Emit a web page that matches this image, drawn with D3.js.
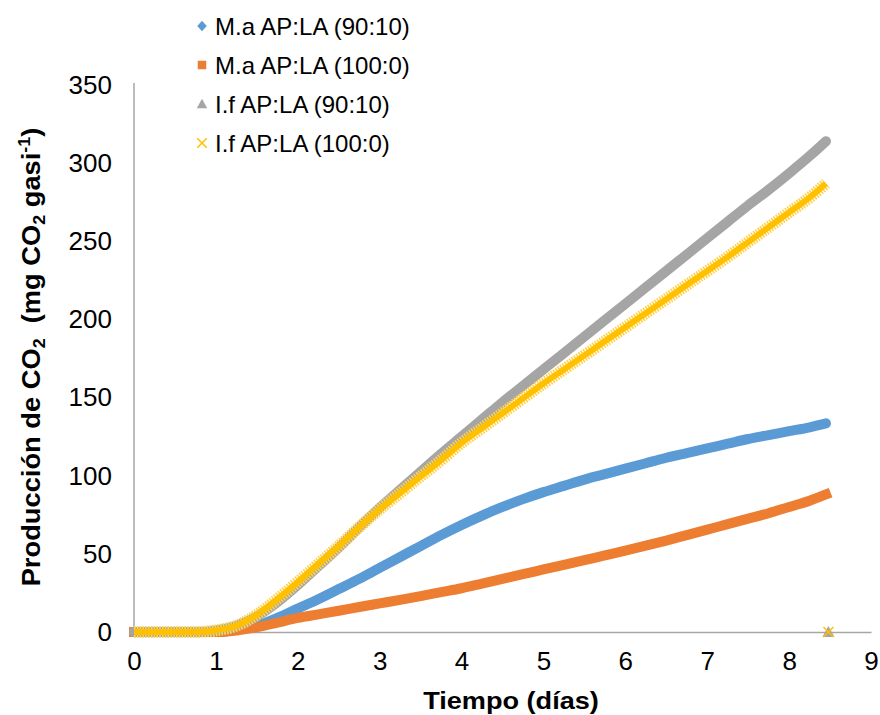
<!DOCTYPE html>
<html><head><meta charset="utf-8">
<script src="https://cdn.jsdelivr.net/npm/d3@7"></script>
<style>
body{margin:0;background:#fff}
text{font-family:"Liberation Sans",Arial,sans-serif;fill:#000}
</style>
</head><body>
<svg id="c" width="880" height="715"></svg>
<script>
// ---- data ----
const times = [0,0.25,0.5,0.75,1,1.25,1.5,1.75,2,2.25,2.5,2.75,3,3.25,3.5,3.75,4,4.25,4.5,4.75,5,5.25,5.5,5.75,6,6.25,6.5,6.75,7,7.25,7.5,7.75,8,8.25,8.45];
const maAP9010 = [0,0,0,0,0,1.5,4,9,15,21,27.5,34,41,48,55,62,68.5,74.5,80,85,89.5,93.5,97.5,101,104.5,108,111.5,114.5,117.5,120.5,123.5,126,128.5,131,133.5];
const maAP1000 = [0,0,0,0,0,1,3,6,9,11.3,13.6,16,18.3,20.6,23,25.5,28,31,34,37,40,43,46,49,52,55.2,58.5,62,65.5,69,72.5,76,80,84,88];
const ifAP9010 = [0,0,0,0,1,4,10,19,30,42,54,67,79.5,91,102.5,114,125,136,147,157.5,168,178.5,189,199.5,210,220.5,231,241.5,252,262.5,273,283,293.5,304.5,314];
const ifAP1000 = [0,0,0,0,1,4,11,21,32,43.5,55,67,78.5,89,99.5,110,121,130.5,140,149.5,159,168,177,186,195,204,213,222,231,240,249.5,259,268.5,278,287];
// isolated extra points at the end (value 0)
const strayTime = [8.48];
const strayIf9010 = [0];
const strayIf1000 = [0];
const seriesNames = ["M.a AP:LA (90:10)","M.a AP:LA (100:0)","I.f AP:LA (90:10)","I.f AP:LA (100:0)"];
const xTicks = [0,1,2,3,4,5,6,7,8,9];
const yTicks = [0,50,100,150,200,250,300,350];

// ---- scales ----
const svg = d3.select("#c");
const x = d3.scaleLinear().domain([0,9]).range([134,871]);
const y = d3.scaleLinear().domain([0,350]).range([632,85]);

// axes
const axCol = "#A6A6A6";
const gx = svg.append("g").attr("transform","translate(0,632)")
  .call(d3.axisBottom(x).tickValues(xTicks).tickSize(0).tickPadding(20).tickFormat(d3.format("d")));
gx.select(".domain").attr("stroke",axCol).attr("stroke-width",1.5);
gx.selectAll("text").attr("font-size",26).attr("font-family","Liberation Sans, Arial, sans-serif").attr("fill","#000");
const gy = svg.append("g").attr("transform","translate(134,0)")
  .call(d3.axisLeft(y).tickValues(yTicks).tickSize(0).tickPadding(22));
gy.select(".domain").attr("stroke",axCol).attr("stroke-width",1.5).attr("d","M0,632V83");
gy.selectAll("text").attr("font-size",26).attr("font-family","Liberation Sans, Arial, sans-serif").attr("fill","#000");

// series
const colors = ["#5B9BD5","#ED7D31","#A5A5A5","#FFC000"];
const allSeries = [maAP9010, maAP1000, ifAP9010, ifAP1000];
const line = d3.line().x((d,i)=>x(times[i])).y(d=>y(d)).curve(d3.curveMonotoneX);

allSeries.forEach((vals,k)=>{
  if(k===3){
    svg.append("path").attr("d",line(vals)).attr("fill","none")
      .attr("stroke","#FFD24D").attr("stroke-width",12).attr("stroke-dasharray","1.6,1.2")
      .attr("stroke-linecap","butt");
    svg.append("path").attr("d",line(vals)).attr("fill","none")
      .attr("stroke",colors[k]).attr("stroke-width",6).attr("stroke-linejoin","round");
  } else {
    svg.append("path").attr("d",line(vals)).attr("fill","none")
      .attr("stroke",colors[k]).attr("stroke-width",10)
      .attr("stroke-linecap", k===1 ? "square" : "round").attr("stroke-linejoin","round");
  }
});

// marker shapes
function marker(g,k,cx,cy,s){
  if(k===0) g.append("path").attr("d",`M${cx},${cy-s*0.55}L${cx+s*0.5},${cy}L${cx},${cy+s*0.55}L${cx-s*0.5},${cy}Z`).attr("fill",colors[0]);
  if(k===1) g.append("rect").attr("x",cx-s/2).attr("y",cy-s/2).attr("width",s).attr("height",s).attr("fill",colors[1]);
  if(k===2) g.append("path").attr("d",`M${cx},${cy-s*0.55}L${cx+s*0.55},${cy+s*0.45}L${cx-s*0.55},${cy+s*0.45}Z`).attr("fill",colors[2]);
  if(k===3) g.append("path").attr("d",`M${cx-s/2},${cy-s/2}L${cx+s/2},${cy+s/2}M${cx-s/2},${cy+s/2}L${cx+s/2},${cy-s/2}`).attr("stroke",colors[3]).attr("stroke-width",1.5);
}
// stray points
strayTime.forEach((t,i)=>{
  marker(svg,2,x(t),y(strayIf9010[i]),11);
  marker(svg,3,x(t),y(strayIf1000[i]),10);
});

// legend
const lg = svg.append("g");
const rowY = [26,65,104,143];
seriesNames.forEach((n,k)=>{
  marker(lg,k,202,rowY[k],k===1?8.5:9.5);
  lg.append("text").attr("x",215).attr("y",rowY[k]+8.6).attr("font-size",24).text(n);
});

// axis titles
svg.append("text").attr("transform","translate(511,709) scale(1.13,1)")
  .attr("text-anchor","middle").attr("font-size",24).attr("font-weight","bold").text("Tiempo (días)");

const yt = svg.append("text").attr("transform","translate(39.5,357) rotate(-90) scale(1.05,1)")
  .attr("text-anchor","middle").attr("font-size",26).attr("font-weight","bold");
yt.append("tspan").text("Producción de CO");
yt.append("tspan").attr("font-size",17).attr("dy",5).text("2");
yt.append("tspan").attr("dy",-5).text("  (mg CO").style("white-space","pre");
yt.append("tspan").attr("font-size",17).attr("dy",5).text("2");
yt.append("tspan").attr("dy",-5).text(" gasi");
yt.append("tspan").attr("font-size",17).attr("dy",-10).text("-1");
yt.append("tspan").attr("dy",10).text(")");
</script>
</body></html>
